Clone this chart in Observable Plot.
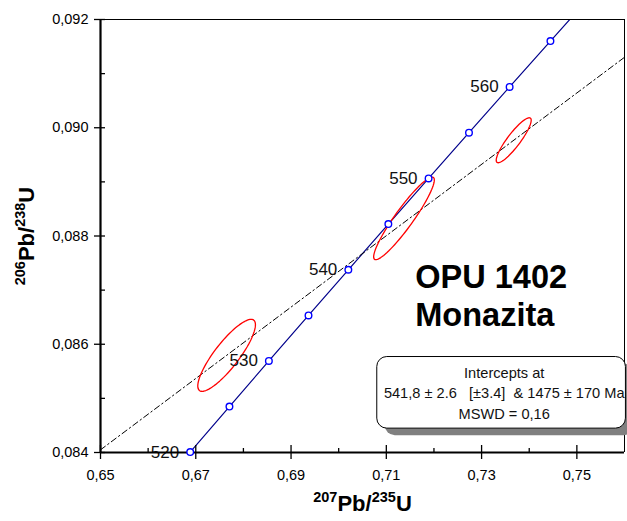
<!DOCTYPE html>
<html><head><meta charset="utf-8">
<script src="https://cdn.jsdelivr.net/npm/d3@7"></script>
<script src="https://cdn.jsdelivr.net/npm/@observablehq/plot@0.6"></script>
<style>body{margin:0;background:#fff}</style>
</head><body><div id="chart"></div>
<script>
// Concordia ages (Ma) and their ratios
const concordiaAge = [515, 520, 525, 530, 535, 540, 545, 550, 555, 560, 565, 570];
const concordiaX = [0.660631, 0.668829, 0.677067, 0.685346, 0.693665, 0.702026, 0.710426, 0.718871, 0.727355, 0.735883, 0.744451, 0.753064];
const concordiaY = [0.083167, 0.084008, 0.084849, 0.085691, 0.086533, 0.087376, 0.088220, 0.089064, 0.089909, 0.090755, 0.091601, 0.092448];
const markerAges = [520, 525, 530, 535, 540, 545, 550, 555, 560, 565];
const labelAges = [520, 530, 540, 550, 560];
// Analyses (error ellipses)
const ellipseX = [0.676474, 0.713709, 0.736742];
const ellipseY = [0.085795, 0.088325, 0.089769];
const ellipseSx = [0.006052, 0.006367, 0.003671];
const ellipseSy = [0.000665, 0.000763, 0.0004155];
const ellipseRho = [0.85, 0.93, 0.89];
// Discordia end points
const discordiaX = [0.65, 0.76];
const discordiaY = [0.084049, 0.091302];
// Ticks
const xTicks = [0.65, 0.67, 0.69, 0.71, 0.73, 0.75];
const xMinor = [0.66, 0.68, 0.70, 0.72, 0.74];
const yTicks = [0.084, 0.086, 0.088, 0.090, 0.092];
const yMinor = [0.085, 0.087, 0.089, 0.091];
// Text
const sampleLines = ["OPU 1402", "Monazita"];
const boxLines = ["Intercepts at", "541,8 \u00b1 2.6 \u00a0 [\u00b13.4] \u00a0& 1475 \u00b1 170 Ma", "MSWD = 0,16"];
const xTitle = "207Pb/235U";
const yTitle = "206Pb/238U";

const concordia = concordiaAge.map((a, i) => ({age: a, x: concordiaX[i], y: concordiaY[i]}));
const markers = concordia.filter(d => markerAges.includes(d.age));
const labels = concordia.filter(d => labelAges.includes(d.age));
const discordia = discordiaX.map((x, i) => ({x, y: discordiaY[i]}));

const ellipsePts = [];
ellipseX.forEach((cx, k) => {
  const sx = ellipseSx[k], sy = ellipseSy[k], r = ellipseRho[k];
  for (let i = 0; i <= 90; i++) {
    const t = (i / 90) * 2 * Math.PI;
    ellipsePts.push({id: k, x: cx + sx * Math.cos(t), y: ellipseY[k] + sy * (r * Math.cos(t) + Math.sqrt(1 - r * r) * Math.sin(t))});
  }
});

const comma = (n) => (d) => d.toFixed(n).replace(".", ",");

const chart = Plot.plot({
  width: 627, height: 521,
  marginLeft: 100, marginRight: 3, marginTop: 19, marginBottom: 69,
  x: {domain: [0.65, 0.76]},
  y: {domain: [0.084, 0.092]},
  style: {fontFamily: "'Liberation Sans', Arial, sans-serif", color: "black", background: "white", overflow: "visible"},
  marks: [
    Plot.line(concordia, {x: "x", y: "y", stroke: "#00008b", strokeWidth: 1.2, clip: true}),
    Plot.line(discordia, {x: "x", y: "y", stroke: "black", strokeWidth: 1, strokeDasharray: "6,3,1.5,3"}),
    Plot.line(ellipsePts, {x: "x", y: "y", z: "id", stroke: "#ff0000", strokeWidth: 1.3}),
    Plot.text(labels, {x: "x", y: "y", text: d => String(d.age), textAnchor: "end", dx: -11, fontSize: 17, fill: "#111"}),
    // frame
    Plot.ruleY([0.092], {stroke: "black", strokeWidth: 1}),
    Plot.ruleX([0.76], {stroke: "black", strokeWidth: 1}),
    Plot.ruleX([0.65], {stroke: "black", strokeWidth: 2.2}),
    Plot.ruleY([0.084], {stroke: "black", strokeWidth: 2.2}),
    // ticks
    Plot.axisX(xTicks, {tickSize: 14, dy: -7, fill: "none", label: null, strokeWidth: 1.3}),
    Plot.axisX(xMinor, {tickSize: 4, dy: -4, fill: "none", label: null, strokeWidth: 1.3}),
    Plot.axisY(yTicks, {tickSize: 11, dx: 5, fill: "none", label: null, strokeWidth: 1.3}),
    Plot.axisY(yMinor, {tickSize: 5, dx: 5, fill: "none", label: null, strokeWidth: 1.3}),
    Plot.axisX(xTicks, {tickSize: 0, tickPadding: 17, tickFormat: comma(2), fontSize: 14.5, label: null}),
    Plot.axisY(yTicks, {tickSize: 0, tickPadding: 12, tickFormat: comma(3), fontSize: 14.5, label: null}),
    // axis titles
    Plot.text([xTitle], {frameAnchor: "bottom", dy: 58, text: d => d, fontSize: 22, fontWeight: "bold", textAnchor: "middle"}),
    Plot.text([yTitle], {frameAnchor: "left", dx: -74, text: d => d, fontSize: 22, fontWeight: "bold", textAnchor: "middle", rotate: -90}),
    // sample name
    Plot.text([sampleLines.join("\n")], {x: 0.71608, y: 0.086918, text: d => d, textAnchor: "start", fontSize: 32.5, fontWeight: "bold", lineHeight: 1.18}),
    // intercept box with shadow
    Plot.rect([0], {x1: 0.7081, x2: 0.7603, y1: 0.085764, y2: 0.084441, rx: 10, fill: "#808080", dx: 8, dy: 7}),
    Plot.rect([0], {x1: 0.7081, x2: 0.7603, y1: 0.085764, y2: 0.084441, rx: 10, fill: "white", stroke: "black", strokeWidth: 1}),
    Plot.text([boxLines.join("\n")], {x: 0.73475, y: 0.085118, text: d => d, textAnchor: "middle", fontSize: 14.6, lineHeight: 1.38, fill: "#111"}),
    // concordia markers
    Plot.dot(markers, {x: "x", y: "y", r: 3.3, stroke: "#0000ff", strokeWidth: 1.4, fill: "white"})
  ]
});
document.getElementById("chart").appendChild(chart);

// Superscript the isotope mass numbers in the axis titles
chart.querySelectorAll("text").forEach(t => {
  const s = t.textContent;
  if (s !== xTitle && s !== yTitle) return;
  t.textContent = "";
  const parts = s.match(/\d+|[^\d]+/g);
  let up = false;
  parts.forEach(p => {
    const ts = document.createElementNS("http://www.w3.org/2000/svg", "tspan");
    ts.textContent = p;
    if (/^\d+$/.test(p)) {
      ts.setAttribute("font-size", "14.5");
      ts.setAttribute("dy", "-9");
      up = true;
    } else if (up) {
      ts.setAttribute("dy", "9");
      up = false;
    }
    t.appendChild(ts);
  });
});
</script>
</body></html>
